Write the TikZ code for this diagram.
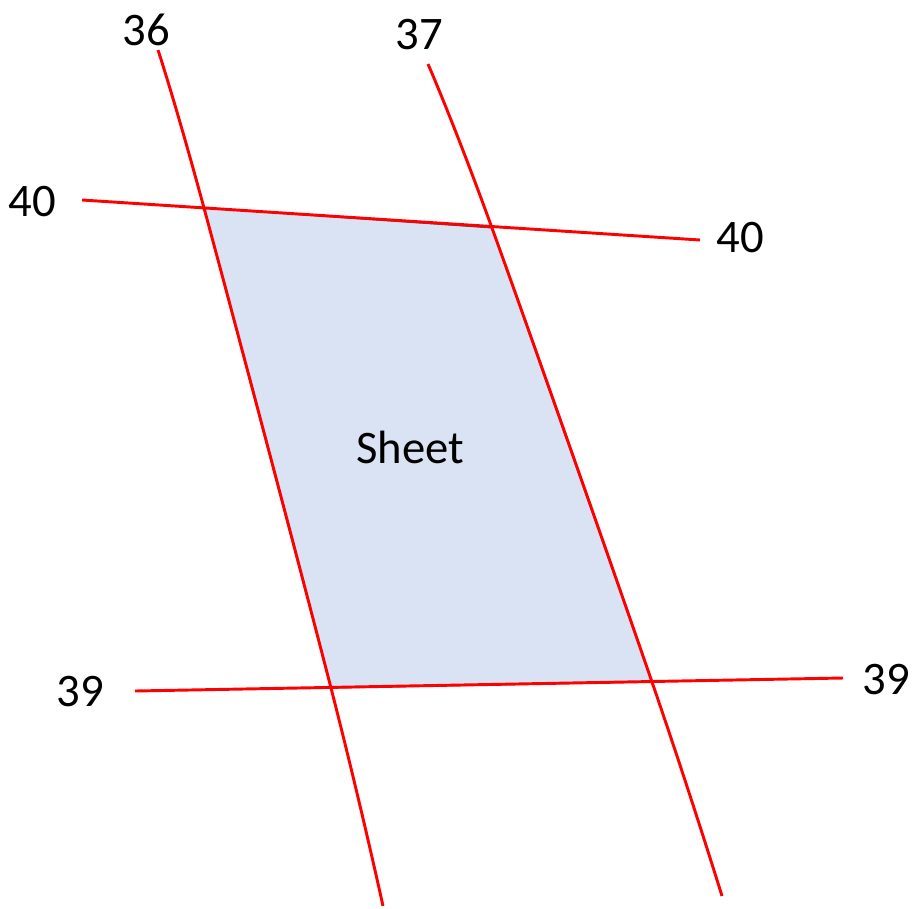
\documentclass[tikz,border=0pt]{standalone}
\usepackage{fontspec}
\setmainfont{Carlito}
\definecolor{gridred}{RGB}{255,0,0}
\definecolor{sheetfill}{RGB}{218,227,243}
\definecolor{sheetedge}{RGB}{68,84,106}
\begin{document}
\begin{tikzpicture}[x=0.75pt,y=-0.75pt,
  gridline/.style={draw=gridred,line width=2.2pt},
  lbl/.style={font=\fontsize{35}{40}\selectfont,text=black,inner sep=0pt},
  sheetbox/.style={fill=sheetfill,draw=sheetedge,line width=0.8pt}]
\useasboundingbox (0,0) rectangle (922,908);
% corners of the sheet
\coordinate (c1) at (204,208);
\coordinate (c2) at (492,228);
\coordinate (c3) at (652,682);
\coordinate (c4) at (331,688);
\filldraw[sheetbox] (c1) -- (c2) -- (c3) -- (c4) -- cycle;
\node[lbl] (sheet) at (410,447) {Sheet};
% grid line ends
\coordinate (a36) at (158,50);
\coordinate (b36) at (383,906);
\coordinate (a37) at (428,64);
\coordinate (b37) at (722,896);
\coordinate (a40) at (82,200);
\coordinate (b40) at (700,240);
\coordinate (a39) at (135,691);
\coordinate (b39) at (843,678);
\draw[gridline] plot[smooth,tension=0.6] coordinates {(a36) (c1) (c4) (b36)};
\draw[gridline] plot[smooth,tension=0.6] coordinates {(a37) (c2) (c3) (b37)};
\draw[gridline] (a40) -- (b40);
\draw[gridline] (a39) -- (b39);
% labels
\node[lbl] (l36) at (146,30) {36};
\node[lbl] (l37) at (419,35) {37};
\node[lbl] (l40a) at (32,202) {40};
\node[lbl] (l40b) at (740,238) {40};
\node[lbl] (l39a) at (80,692) {39};
\node[lbl] (l39b) at (886,680) {39};
\end{tikzpicture}
\end{document}
